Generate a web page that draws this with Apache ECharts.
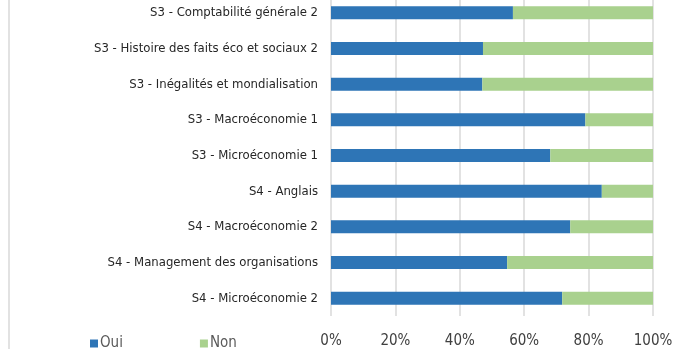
<!DOCTYPE html>
<html><head><meta charset="utf-8">
<script src="https://cdn.jsdelivr.net/npm/echarts@6/dist/echarts.min.js"></script>
<style>html,body{margin:0;padding:0;background:#fff;overflow:hidden}#c{width:687px;height:354px;margin-top:-5px}</style>
</head><body><div id="c"></div>
<script>
const categories = [
  "S3 - Comptabilité générale 2",
  "S3 - Histoire des faits éco et sociaux 2",
  "S3 - Inégalités et mondialisation",
  "S3 - Macroéconomie 1",
  "S3 - Microéconomie 1",
  "S4 - Anglais",
  "S4 - Macroéconomie 2",
  "S4 - Management des organisations",
  "S4 - Microéconomie 2"
];
const oui = [56.5, 47.2, 47.0, 79.0, 68.1, 84.1, 74.3, 54.7, 71.8];
const non = [43.5, 52.8, 53.0, 21.0, 31.9, 15.9, 25.7, 45.3, 28.2];
const seriesNames = ["Oui", "Non"];
const xTicks = [0, 20, 40, 60, 80, 100];

const chart = echarts.init(document.getElementById('c'), null, {renderer: 'canvas'});
const font = "'DejaVu Sans Condensed', 'Liberation Sans', sans-serif";
chart.setOption({
  animation: false,
  textStyle: {fontFamily: font},
  graphic: [{type: 'line', shape: {x1: 9, y1: 0, x2: 9, y2: 354}, style: {stroke: '#d9d9d9', lineWidth: 1.5}}],
  legend: {
    data: seriesNames, left: 90, top: 341, padding: 0, icon: 'rect', itemWidth: 8, itemHeight: 8, itemGap: 77,
    textStyle: {fontSize: 15, color: '#595959', fontFamily: font, padding: [0,0,0,-3]}
  },
  grid: {left: 331, right: 34, top: 0, bottom: 28, containLabel: false},
  xAxis: {
    type: 'value', min: xTicks[0], max: xTicks[xTicks.length-1], interval: 20,
    axisLine: {show: false}, axisTick: {show: false},
    axisLabel: {formatter: v => v + '%', fontSize: 15, color: '#404040', margin: 18, fontFamily: font},
    splitLine: {show: true, lineStyle: {color: '#d9d9d9', width: 1.5}}
  },
  yAxis: {
    type: 'category', data: categories, inverse: true,
    axisLine: {show: false}, axisTick: {show: false},
    axisLabel: {fontSize: 13, color: '#262626', margin: 13, fontFamily: font}
  },
  series: [
    {name: seriesNames[0], type: 'bar', stack: 'a', data: oui, barWidth: 13, itemStyle: {color: '#2e75b6'}},
    {name: seriesNames[1], type: 'bar', stack: 'a', data: non, barWidth: 13, itemStyle: {color: '#a9d18e'}}
  ]
});
</script></body></html>
